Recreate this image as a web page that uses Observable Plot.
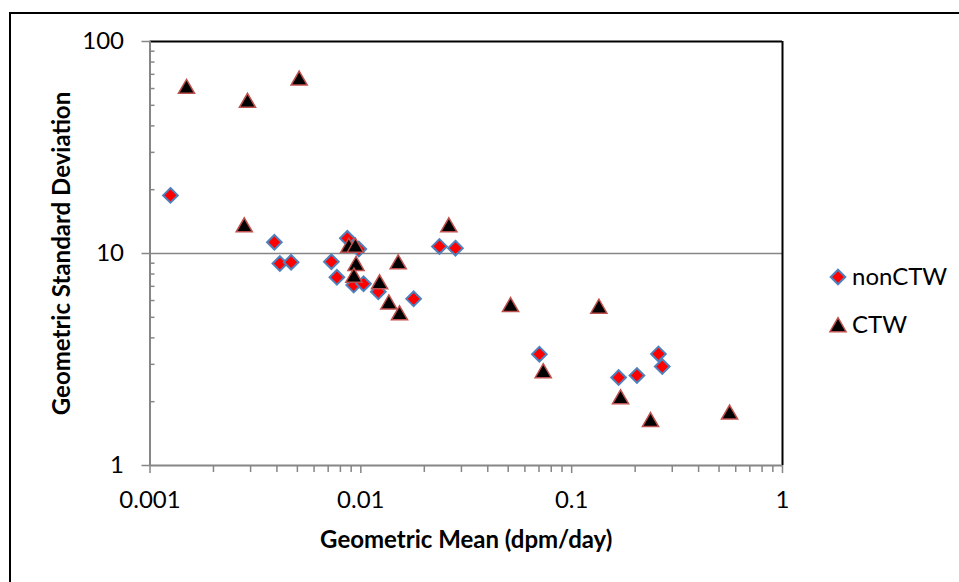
<!DOCTYPE html>
<html>
<head>
<meta charset="utf-8">
<script src="https://cdn.jsdelivr.net/npm/d3@7"></script>
<script src="https://cdn.jsdelivr.net/npm/@observablehq/plot@0.6"></script>
<style>
  html, body { margin: 0; padding: 0; background: white; }
  #wrap { position: relative; width: 959px; height: 582px; overflow: hidden; font-family: Lato, sans-serif; }
  #border { position: absolute; left: 9px; top: 12px; width: 1200px; height: 900px; border-left: 2px solid #000; border-top: 2px solid #000; pointer-events: none; }
  .leg { position: absolute; font-family: Lato, sans-serif; font-size: 24px; color: #000; line-height: 1; }
  #chart { position: absolute; left: 0; top: 0; }
</style>
</head>
<body>
<div id="wrap">
  <div id="chart"></div>
  <div id="border"></div>
  <div id="legend"></div>
</div>
<script>
// ---- data ----
const seriesNames = ["nonCTW", "CTW"];

const nonCtwX = [0.00125, 0.00389, 0.00413, 0.00467, 0.00725, 0.0077, 0.00863, 0.00925, 0.00978, 0.0103, 0.0121, 0.0178, 0.0236, 0.0281, 0.0703, 0.167, 0.204, 0.258, 0.269];
const nonCtwY = [18.8, 11.3, 8.97, 9.1, 9.15, 7.72, 11.8, 7.1, 10.5, 7.2, 6.6, 6.11, 10.8, 10.6, 3.35, 2.6, 2.66, 3.36, 2.93];

const ctwX = [0.00149, 0.0029, 0.0051, 0.0028, 0.00877, 0.00942, 0.00949, 0.00927, 0.01227, 0.01358, 0.01504, 0.01526, 0.02615, 0.0513, 0.1346, 0.0733, 0.1706, 0.2366, 0.561];
const ctwY = [61.2, 52.6, 67, 13.6, 10.9, 10.9, 8.94, 7.87, 7.33, 5.89, 9.1, 5.23, 13.6, 5.72, 5.62, 2.79, 2.10, 1.64, 1.78];

const xMajorTicks = [0.001, 0.01, 0.1, 1];
const xTickLabels = ["0.001", "0.01", "0.1", "1"];
const yMajorTicks = [1, 10, 100];
const yTickLabels = ["1", "10", "100"];
const minorMultipliers = [2, 3, 4, 5, 6, 7, 8, 9];

const xTitle = "Geometric Mean (dpm/day)";
const yTitle = "Geometric Standard Deviation";

// ---- derived tables ----
const nonCtw = nonCtwX.map((x, i) => ({x, y: nonCtwY[i]}));
const ctw = ctwX.map((x, i) => ({x, y: ctwY[i]}));
const xMinor = [0.001, 0.01, 0.1].flatMap(d => minorMultipliers.map(m => d * m));
const yMinor = [1, 10].flatMap(d => minorMultipliers.map(m => d * m));

const axisGray = "#868686";
const fmtX = d => xTickLabels[xMajorTicks.findIndex(t => Math.abs(t - d) / t < 1e-9)];
const fmtY = d => yTickLabels[yMajorTicks.findIndex(t => Math.abs(t - d) / t < 1e-9)];

const chart = Plot.plot({
  width: 959,
  height: 582,
  marginLeft: 149.5,
  marginRight: 177,
  marginTop: 41,
  marginBottom: 117,
  style: {fontFamily: "Lato, sans-serif", fontSize: "24px", background: "transparent", color: "#000", overflow: "visible"},
  x: {type: "log", domain: [0.001, 1]},
  y: {type: "log", domain: [1, 100]},
  marks: [
    // gridline at 10
    Plot.ruleY([10], {stroke: axisGray, strokeWidth: 1.5}),
    // plot-area border (top/right)
    Plot.ruleY([100], {stroke: "#000", strokeWidth: 2}),
    Plot.ruleX([1], {stroke: "#000", strokeWidth: 2}),
    // axis lines
    Plot.ruleX([0.001], {stroke: axisGray, strokeWidth: 2}),
    Plot.ruleY([1], {stroke: axisGray, strokeWidth: 2}),
    // y axis
    Plot.axisY(yMinor, {tickSize: 5, dx: 5, tickFormat: () => "", stroke: axisGray, strokeWidth: 1.5, label: null}),
    Plot.axisY(yMajorTicks, {tickSize: 8, tickPadding: 18, tickFormat: fmtY, stroke: axisGray, strokeWidth: 1.5, label: null, fontSize: 24}),
    // x axis
    Plot.axisX(xMinor, {tickSize: 7, tickFormat: () => "", stroke: axisGray, strokeWidth: 1.5, label: null}),
    Plot.axisX(xMajorTicks, {tickSize: 8, tickPadding: 17, tickFormat: fmtX, stroke: axisGray, strokeWidth: 1.5, label: null, fontSize: 24}),
    // titles
    Plot.text([xTitle], {frameAnchor: "bottom", dy: 75, lineAnchor: "middle", textAnchor: "middle", fontWeight: "bold", fontSize: 24, fill: "#000"}),
    Plot.text([yTitle], {frameAnchor: "left", dx: -88, rotate: -90, textAnchor: "middle", lineAnchor: "middle", fontWeight: "bold", fontSize: 24, fill: "#000"}),
    // series
    Plot.dot(nonCtw, {x: "x", y: "y", symbol: "diamond2", r: 6.6, fill: "#FF0000", stroke: "#4F81BD", strokeWidth: 2}),
    Plot.dot(ctw, {x: "x", y: "y", symbol: "triangle", r: 6, dy: 2, fill: "#000000", stroke: "#C0504D", strokeWidth: 1.5})
  ]
});
document.getElementById("chart").appendChild(chart);

// legend
const legend = d3.select("#legend");
const legendItems = [
  {name: seriesNames[0], cy: 276.5, sym: d3.symbolDiamond2, size: Math.PI * 6.6 * 6.6, fill: "#FF0000", stroke: "#4F81BD", sw: 2, dy: 0},
  {name: seriesNames[1], cy: 325, sym: d3.symbolTriangle, size: Math.PI * 6 * 6, fill: "#000000", stroke: "#C0504D", sw: 1.5, dy: 2}
];
legendItems.forEach(it => {
  const svg = legend.append("svg")
    .style("position", "absolute").style("left", "826px").style("top", (it.cy - 12) + "px")
    .attr("width", 24).attr("height", 24);
  svg.append("path").attr("transform", `translate(12,${12 + it.dy})`)
    .attr("d", d3.symbol(it.sym, it.size)())
    .attr("fill", it.fill).attr("stroke", it.stroke).attr("stroke-width", it.sw);
  legend.append("div").attr("class", "leg")
    .style("left", "852px").style("top", (it.cy - 13) + "px")
    .text(it.name);
});
</script>
</body>
</html>
